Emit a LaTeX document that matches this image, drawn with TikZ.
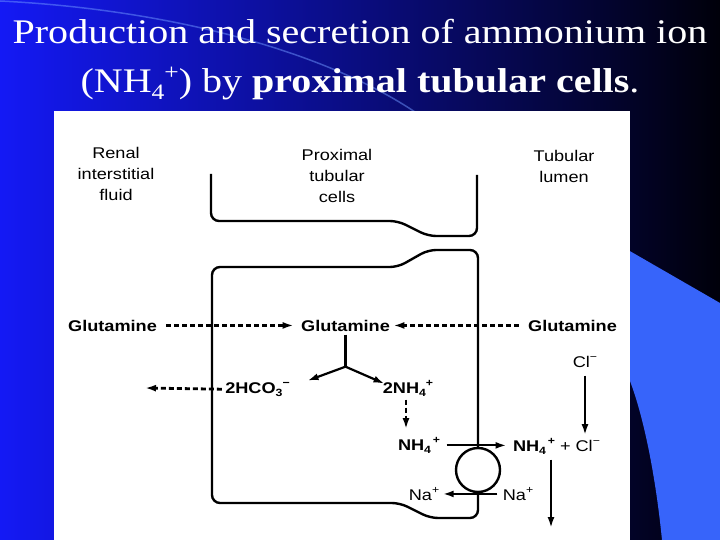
\documentclass[tikz,border=0pt]{standalone}
\usepackage{fontspec}
\setmainfont{Liberation Serif}
\newfontfamily\labfont[FakeStretch=1.17]{Liberation Sans}
\newfontfamily\titlefont[FakeStretch=1.16]{Liberation Serif}
\usetikzlibrary{arrows.meta}
\definecolor{slideblue}{RGB}{20,25,245}
\definecolor{slidemid}{RGB}{12,18,200}
\definecolor{slidedark}{RGB}{0,0,10}
\definecolor{accentblue}{RGB}{55,100,250}
\definecolor{arcblue}{RGB}{110,150,255}
\newcommand\chlo[2][10.5bp]{\raisebox{-0.2em}{\fontsize{#1}{#1}\selectfont #2}}
\newcommand\chhi[2][10.5bp]{\raisebox{0.4em}{\fontsize{#1}{#1}\selectfont #2}}
\begin{document}
\begin{tikzpicture}[x=1bp, y=-1bp,
  lab/.style={font=\labfont\fontsize{15.5bp}{21bp}\selectfont, align=center},
  chem/.style={font=\labfont\fontsize{15.5bp}{21bp}\selectfont\bfseries, anchor=base},
  ion/.style={font=\labfont\fontsize{15.5bp}{21bp}\selectfont, anchor=base},
  wall/.style={line width=2.4bp, rounded corners=8bp},
  arr/.style={line width=2.2bp, -{Latex[length=11bp,width=7bp]}},
  dasharr/.style={line width=2.8bp, dash pattern=on 5bp off 3bp, -{Latex[length=11bp,width=7bp]}},
  title/.style={font=\titlefont\fontsize{34.5bp}{40bp}\selectfont, text=white, anchor=base}]
\useasboundingbox (0,0) rectangle (720,540);
% slide background
\shade[left color=slideblue, middle color=slidemid, right color=slidedark] (0,0) rectangle (720,540);
\fill[accentblue] (628,250) -- (720,303) -- (720,540) -- (662,540) .. controls (655,470) and (642,410) .. (628,376) -- cycle;
\draw[arcblue, line width=1.5bp, opacity=0.5] (0,1) .. controls (180,10) and (330,55) .. (415,112);
\fill[white] (54,111) rectangle (630,540);
\node[title] (t1) at (360,44) {Production and secretion of ammonium ion};
\node[title] (t2) at (360,93) {(NH\chlo[22bp]{4}\chhi[22bp]{+}) by \textbf{proximal tubular cells}.};
% compartments
\node[lab] (renal) at (116,174) {Renal\\interstitial\\fluid};
\node[lab] (prox) at (337,176) {Proximal\\tubular\\cells};
\node[lab] (lumen) at (564,166.5) {Tubular\\lumen};
% cell membranes
\draw[wall] (211,174) -- (211,221) -- (398,221) -- (428,236) -- (477,236) -- (477,175);
\node[draw, circle, line width=2.4bp, minimum size=44bp, inner sep=0pt] (pump) at (478,470) {};
\draw[wall] (pump.north) -- (478,250) -- (428,250) -- (398,267) -- (212,267) -- (212,503) -- (400,503) -- (430,518) -- (478,518) -- (pump.south);
% substances
\foreach \x/\n in {112.5/gluL,345.5/gluC,572.5/gluR} \node[chem] (\n) at (\x,331) {Glutamine};
\node[chem] (hco) at (257.5,393) {2HCO\chlo{3}\chhi{−}};
\node[chem] (nh2) at (408,393) {2NH\chlo{4}\chhi{+}};
\node[chem] (nhin) at (419,450) {NH\chlo{4}\chhi{\,+}};
\node[ion] (nhout) at (556.5,451) {\bfseries NH\chlo{4}\chhi{\,+}\mdseries{} + Cl\chhi{−}};
\node[ion] (cl) at (585,367) {Cl\chhi{−}};
\node[ion] (naL) at (424,500) {Na\chhi{+}};
\node[ion] (naR) at (518,500) {Na\chhi{+}};
\coordinate (fork) at ([yshift=-32bp]gluC.south);
\coordinate (hcoOut) at (145,388);
\coordinate (lumenOut) at (551,528);
% glutamine uptake and breakdown
\draw[dasharr, shorten <=6bp, shorten >=4bp] (gluL.east) -- (gluC.west);
\draw[dasharr, shorten <=6bp] (gluR.west) -- (gluC.east);
\draw[line width=2.2bp] (gluC.south) -- (fork);
\draw[arr] (fork) -- ([shift={(-38,14)}]fork);
\draw[arr] (fork) -- ([shift={(39,17)}]fork);
\draw[dasharr] (hco.west) -- (hcoOut);
\draw[dasharr, shorten >=5bp] ([xshift=-2bp]nh2.south) -- ([xshift=-2bp]nh2.south |- nhin.north);
% exchange at the luminal membrane
\draw[arr, shorten <=3bp, shorten >=3bp] (nhin.east) -- (nhin.east -| nhout.west);
\draw[arr, shorten <=5bp] (cl.south) -- (cl.south |- nhout.north);
\draw[arr, shorten <=2bp] (naR.west) -- (naR.west -| naL.east);
\draw[arr, shorten <=2bp] (nhout.south -| lumenOut) -- (lumenOut);
\end{tikzpicture}
\end{document}
